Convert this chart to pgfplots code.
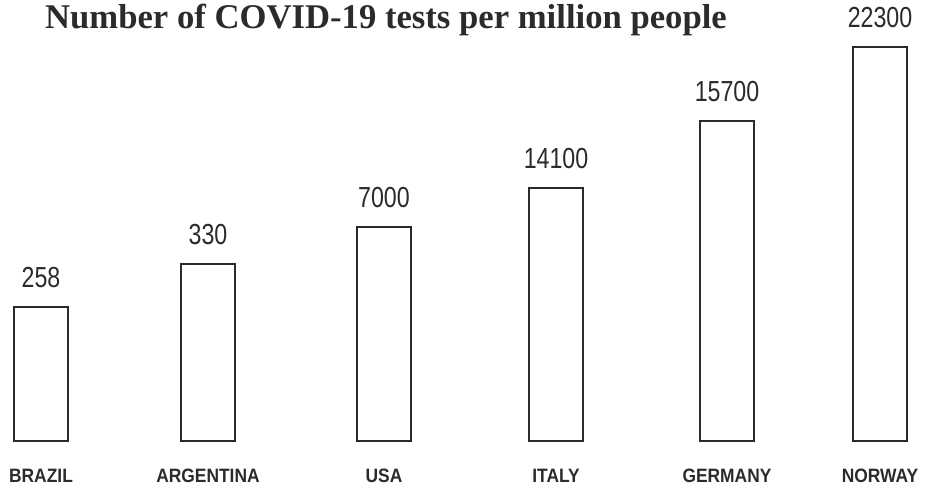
\documentclass[border=0pt]{standalone}
\usepackage{pgfplots}
\pgfplotsset{compat=1.18}
\usepackage{pgfplotstable}
\usepackage{fontspec}
\setmainfont{Liberation Serif}
\newfontfamily\valfont{Liberation Sans}[FakeStretch=0.8]
\newfontfamily\catfont{Liberation Sans}[FakeStretch=0.9]
\definecolor{ink}{HTML}{2B2B2B}
\pgfplotstableread{
x   h   value
41  134 258
208 177 330
384 214 7000
556 253 14100
727 320 15700
880 394 22300
}\datatable
\begin{document}
\begin{tikzpicture}
\begin{axis}[
  scale only axis,
  width=701.25pt, height=365.25pt,
  xmin=0, xmax=935, ymin=-46, ymax=441,
  clip=false,
  axis line style={draw=none},
  major tick length=0pt,
  ytick=\empty,
  xtick={41,208,384,556,727,880},
  xticklabels={BRAZIL,ARGENTINA,USA,ITALY,GERMANY,NORWAY},
  xticklabel style={anchor=base, yshift=3.75pt, font=\catfont\bfseries\fontsize{14.5pt}{16pt}\selectfont, text=ink, inner sep=0pt},
  ybar, bar width=54, bar shift=0pt,
  nodes near coords,
  point meta=explicit,
  nodes near coords style={anchor=base, yshift=15pt, inner sep=0pt, font=\valfont\fontsize{21.75pt}{24pt}\selectfont, text=ink,
    /pgf/number format/.cd, fixed, precision=0, 1000 sep={}, assume math mode=true},
]
\addplot[draw=ink, line width=1.8pt, fill=white] table[x=x, y=h, meta=value] {\datatable};
\node[anchor=base, inner sep=0pt, font=\bfseries\fontsize{26pt}{30pt}\selectfont, text=ink] at (axis cs:386,413) {Number of COVID-19 tests per million people};
\end{axis}
\pgfresetboundingbox
\path (current axis.south west) rectangle (current axis.north east);
\end{tikzpicture}
\end{document}
